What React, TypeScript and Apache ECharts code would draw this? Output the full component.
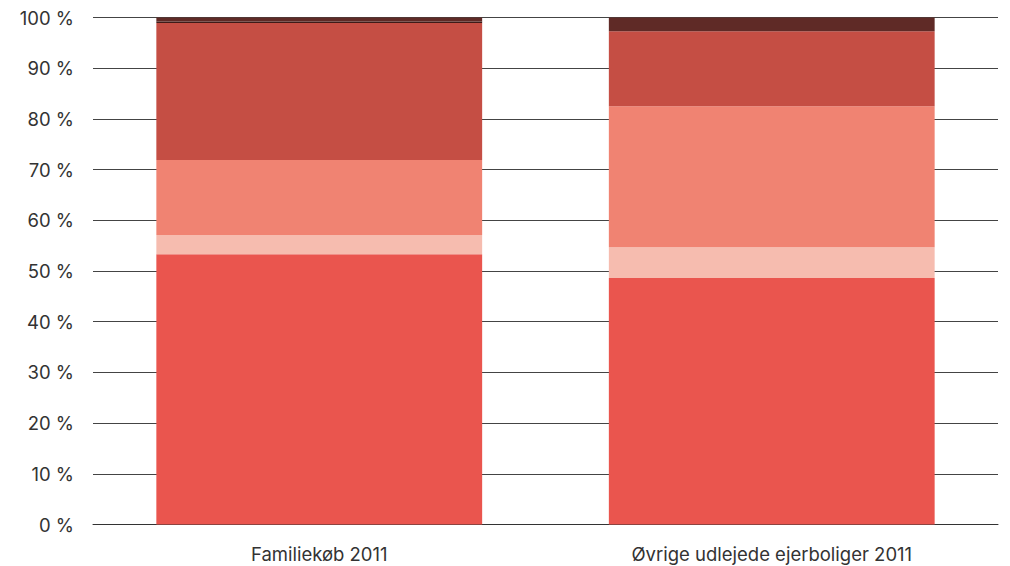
import React, { useEffect, useRef } from "react";
import * as echarts from "echarts";

const categories = ["Familiekøb 2011", "Øvrige udlejede ejerboliger 2011"];
const seriesNames = ["A", "B", "C", "D", "E", "F"];
const seriesA = [53.3, 48.6];
const seriesB = [3.8, 6.1];
const seriesC = [14.8, 27.8];
const seriesD = [27.0, 14.8];
const seriesE = [0.3, 0];
const seriesF = [0.8, 2.7];
const colors = ["#EA554E", "#F6BCAF", "#F08372", "#C54E44", "#3E1B18", "#5F2A26"];

export default function App() {
  const ref = useRef<HTMLDivElement>(null);
  useEffect(() => {
    if (!ref.current) return;
    const chart = echarts.init(ref.current, undefined, { renderer: "svg" });
    const data = [seriesA, seriesB, seriesC, seriesD, seriesE, seriesF];
    chart.setOption({
      animation: false,
      grid: { left: 93, right: 12, top: 17.5, bottom: 41.5, containLabel: false },
      xAxis: {
        type: "category",
        data: categories,
        axisTick: { show: false },
        axisLine: { show: true, lineStyle: { color: "#333", width: 1 } },
        axisLabel: { color: "#333", fontSize: 18.5, fontFamily: "Inter", margin: 20 },
      },
      yAxis: {
        type: "value",
        min: 0,
        max: 100,
        interval: 10,
        axisLine: { show: false },
        axisTick: { show: false },
        splitLine: { lineStyle: { color: "#444", width: 1 } },
        axisLabel: {
          color: "#333",
          fontSize: 18.5,
          fontFamily: "Inter",
          margin: 19,
          formatter: (v: number) => v + " %",
        },
      },
      series: data.map((d, i) => ({
        name: seriesNames[i],
        type: "bar",
        stack: "total",
        data: d,
        barWidth: "72%",
        itemStyle: { color: colors[i] },
      })),
    });
    return () => chart.dispose();
  }, []);
  return (
    <div
      ref={ref}
      style={{ position: "fixed", left: 0, top: 0, width: 1010, height: 566, background: "#fff" }}
    />
  );
}
